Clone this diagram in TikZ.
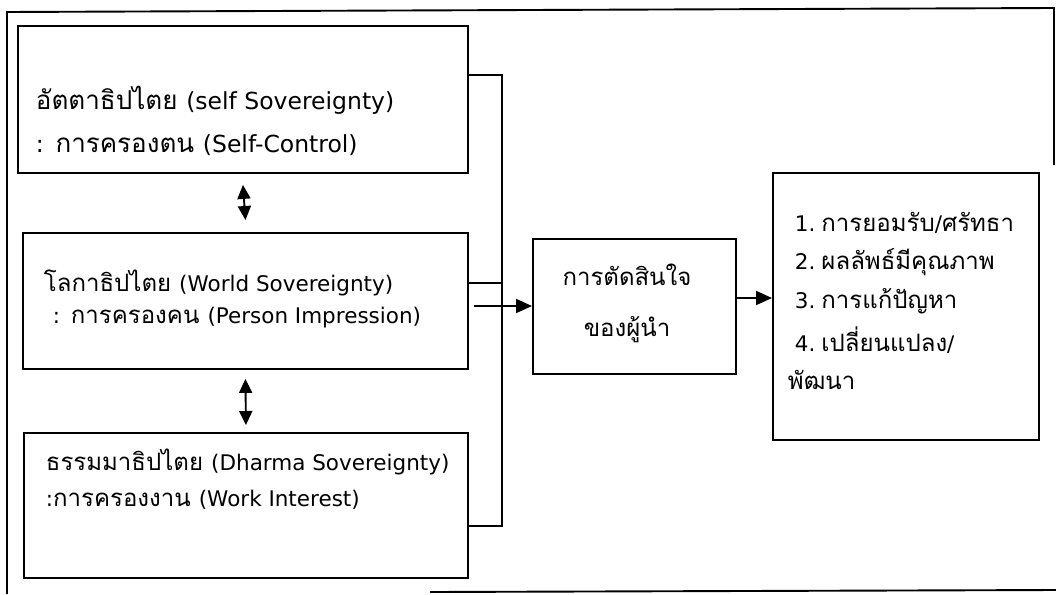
\documentclass[tikz,border=0pt]{standalone}
\usepackage{fontspec}
\newfontfamily\thaifont[Script=Thai]{Loma}
\newfontfamily\latfont{DejaVu Sans}
\newcommand\enpart[1]{{\latfont\fontsize{21.5}{28}\selectfont #1}}
\newcommand\enbig[1]{{\latfont\fontsize{23.5}{30}\selectfont #1}}
\usetikzlibrary{arrows.meta}
\begin{document}
\begin{tikzpicture}[x=1pt,y=-1pt,
  line width=1.9pt,
  box/.style={draw,line width=1.9pt,rectangle,inner sep=0pt,anchor=north west},
  txt/.style={font=\thaifont\fontsize{24}{30}\selectfont,inner sep=0pt,anchor=west},
  bigtxt/.style={font=\thaifont\fontsize{26}{32}\selectfont,inner sep=0pt,anchor=west},
  ctxt/.style={font=\thaifont\fontsize{24}{30}\selectfont,inner sep=0pt},
  arr/.style={-{Triangle[length=16pt,width=14pt]}},
  darr/.style={{Triangle[length=14pt,width=13pt]}-{Triangle[length=14pt,width=13pt]}}]
\useasboundingbox (0,0) rectangle (1056,594);
% outer frame
\draw (1054,165) -- (1054,8) -- (7,12) -- (7,594);
\draw (430,592) -- (1056,590);
% boxes
\node[box,minimum width=450pt,minimum height=147pt] (b1) at (17,25) {};
\node[box,minimum width=445pt,minimum height=136pt] (b2) at (22,232) {};
\node[box,minimum width=444pt,minimum height=145pt] (b3) at (23,432) {};
\node[box,minimum width=203pt,minimum height=135pt] (dec) at (532,238) {};
\node[box,minimum width=266pt,minimum height=267pt] (out) at (772,172) {};
% texts
\node[bigtxt] (t1a) at (35,100) {อัตตาธิปไตย \enbig{(self Sovereignty)}};
\node[bigtxt] (t1b) at (35,145) {\enbig{:} การครองตน \enbig{(Self-Control)}};
\node[txt] (t2a) at (43,283) {โลกาธิปไตย \enpart{(World Sovereignty)}};
\node[txt] (t2b) at (52,318) {\enpart{:} การครองคน \enpart{(Person Impression)}};
\node[txt] (t3a) at (45,462) {ธรรมมาธิปไตย \enpart{(Dharma Sovereignty)}};
\node[txt] (t3b) at (45,500) {\enpart{:}การครองงาน \enpart{(Work Interest)}};
\node[ctxt] (d1) at (627,275) {การตัดสินใจ};
\node[ctxt] (d2) at (627,330) {ของผู้นำ};
\node[txt] (o1) at (794,223) {\enpart{1.}\hspace{6pt}การยอมรับ\enpart{/}ศรัทธา};
\node[txt] (o2) at (794,262) {\enpart{2.}\hspace{6pt}ผลลัพธ์มีคุณภาพ};
\node[txt] (o3) at (794,301) {\enpart{3.}\hspace{6pt}การแก้ปัญหา};
\node[txt] (o4) at (794,340) {\enpart{4.}\hspace{6pt}เปลี่ยนแปลง\enpart{/}};
\node[txt] (o5) at (787,380) {พัฒนา};
% connectors
\coordinate (j1) at (502,75);
\coordinate (j3) at (502,526);
\coordinate (j2) at (502,283);
\coordinate (s) at (474,306);
\draw (b1.east |- j1) -- (j1) -- (j3) -- (b3.east |- j3);
\draw (b2.east |- j2) -- (j2);
\draw[arr] (s) -- (dec.west |- s);
\draw[arr] (dec.east |- 0,298) -- (out.west |- 0,298);
\draw[darr] ([yshift=-11pt]b1.south) -- ([yshift=12pt]b2.north);
\draw[darr] ([yshift=-9pt]b2.south) -- ([yshift=7pt]b3.north);
\end{tikzpicture}
\end{document}
